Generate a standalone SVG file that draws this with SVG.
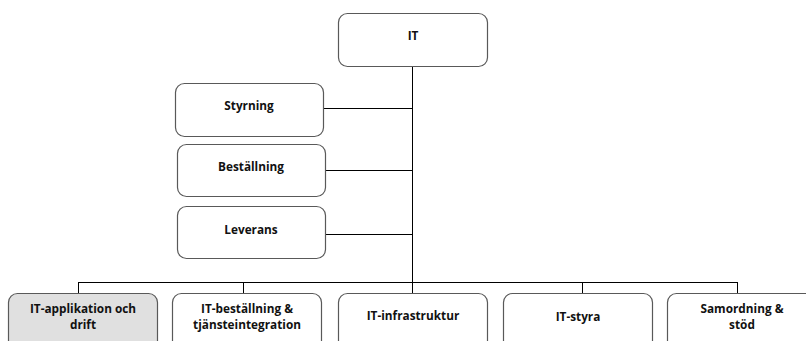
<svg xmlns="http://www.w3.org/2000/svg" width="806" height="341" viewBox="0 0 806 341">
  <style>
    .box { fill: #ffffff; stroke: #595959; stroke-width: 1.2; }
    .shaded { fill: #e0e0e0; }
    .lbl { font-family: "Open Sans", "DejaVu Sans", sans-serif; font-weight: bold; font-size: 11.8px; fill: #111; text-anchor: middle; dominant-baseline: central; }
    .wire { stroke: #000; stroke-width: 1; fill: none; }
  </style>
  <rect width="806" height="341" fill="#ffffff"/>

  <g id="connectors">
    <path class="wire" d="M412.5 66 V282"/>
    <path class="wire" d="M324 108.5 H412.5"/>
    <path class="wire" d="M326 170.5 H412.5"/>
    <path class="wire" d="M326 234.5 H412.5"/>
    <path class="wire" d="M78.5 282.5 H737.5"/>
    <path class="wire" d="M78.5 282 V293"/>
    <path class="wire" d="M243.5 282 V293"/>
    <path class="wire" d="M412.5 282 V293"/>
    <path class="wire" d="M582.5 282 V293"/>
    <path class="wire" d="M737.5 282 V293"/>
  </g>

  <g id="it">
    <rect class="box" x="338.5" y="13.5" width="149" height="53" rx="9"/>
    <text class="lbl" x="413" y="35">IT</text>
  </g>
  <g id="styrning">
    <rect class="box" x="175.5" y="83.5" width="148" height="53" rx="9"/>
    <text class="lbl" x="249" y="105">Styrning</text>
  </g>
  <g id="bestallning">
    <rect class="box" x="177.5" y="144.5" width="148" height="52" rx="9"/>
    <text class="lbl" x="251" y="166">Beställning</text>
  </g>
  <g id="leverans">
    <rect class="box" x="177.5" y="206.5" width="148" height="52" rx="9"/>
    <text class="lbl" x="251" y="229">Leverans</text>
  </g>

  <g id="it-applikation">
    <rect class="box shaded" x="8.5" y="293.5" width="149" height="60" rx="9"/>
    <text class="lbl" x="83" y="307.5">IT-applikation och</text>
    <text class="lbl" x="83" y="323.5">drift</text>
  </g>
  <g id="it-bestallning">
    <rect class="box" x="172.5" y="293.5" width="149" height="60" rx="9"/>
    <text class="lbl" x="247" y="307.5">IT-beställning &amp;</text>
    <text class="lbl" x="247" y="323.5">tjänsteintegration</text>
  </g>
  <g id="it-infrastruktur">
    <rect class="box" x="338.5" y="293.5" width="149" height="60" rx="9"/>
    <text class="lbl" x="413" y="315">IT-infrastruktur</text>
  </g>
  <g id="it-styra">
    <rect class="box" x="503.5" y="293.5" width="149" height="60" rx="9"/>
    <text class="lbl" x="578" y="316">IT-styra</text>
  </g>
  <g id="samordning">
    <rect class="box" x="667.5" y="293.5" width="149" height="60" rx="9"/>
    <text class="lbl" x="742" y="307.5">Samordning &amp;</text>
    <text class="lbl" x="742" y="323.5">stöd</text>
  </g>
</svg>
